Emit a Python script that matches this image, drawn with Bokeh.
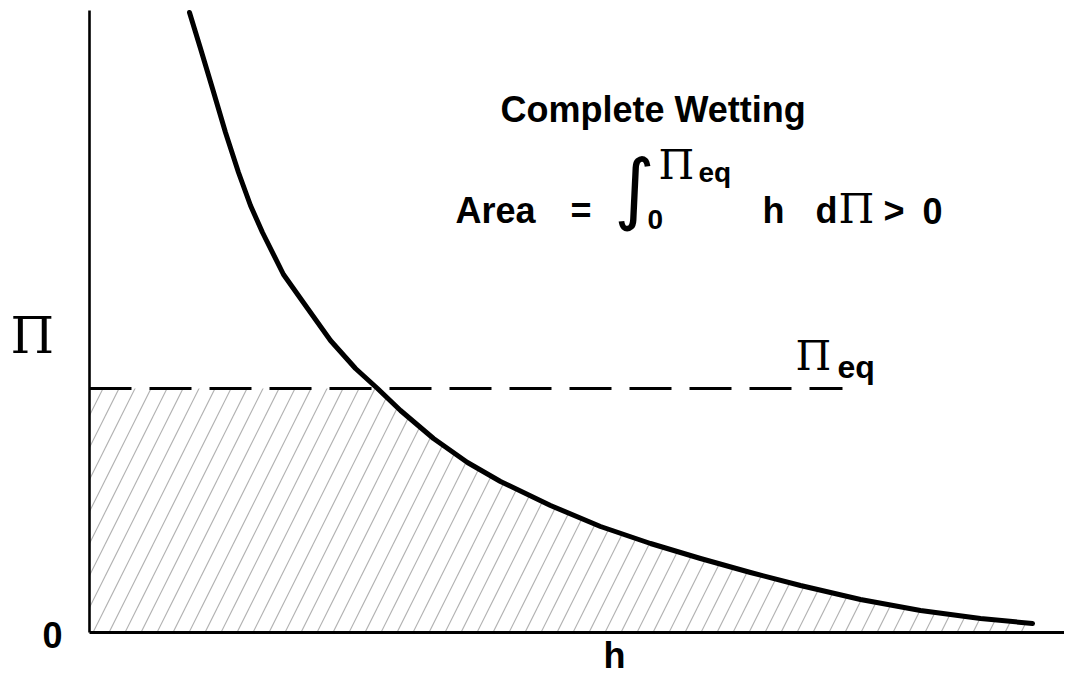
import numpy as np
from bokeh.plotting import figure
from bokeh.models import Range1d, Label
from bokeh.embed import file_html
from bokeh.resources import INLINE

# ---- data (h and Pi in arbitrary units) ----
H = [1.00, 1.11, 1.23, 1.36, 1.49, 1.61, 1.73, 1.94, 2.16, 2.41, 2.66,
     2.88, 3.11, 3.44, 3.78, 4.11, 4.61, 5.11, 5.61, 6.11, 6.61, 7.11,
     7.71, 8.31, 8.91, 9.43]
PI = [6.20, 5.84, 5.44, 5.00, 4.60, 4.27, 4.00, 3.58, 3.27, 2.92, 2.64,
      2.44, 2.22, 1.94, 1.70, 1.51, 1.27, 1.06, 0.89, 0.74, 0.60, 0.47,
      0.33, 0.22, 0.14, 0.09]
PI_EQ = 2.44
PI_EQ_LINE_END = 7.53
AXIS_H = [0.0, 9.86]
AXIS_PI = [0.0, 6.22]

SANS = "Liberation Sans"
SERIF = "DejaVu Serif"

p = figure(width=1064, height=679, output_backend="svg", toolbar_location=None,
           x_range=Range1d(-0.89, 9.75), y_range=Range1d(-0.47, 6.32),
           min_border=0)
p.axis.visible = False
p.grid.visible = False
p.outline_line_color = None
p.background_fill_color = "white"
p.border_fill_color = "white"

# hatched area: under the curve, capped at Pi_eq
xs = np.concatenate([[0.0], np.array(H)])
tops = np.minimum(np.interp(xs, H, PI), PI_EQ)
p.varea(x=xs, y1=np.zeros_like(xs), y2=tops, fill_alpha=0,
        hatch_pattern="/", hatch_color="#9a9a9a", hatch_scale=32,
        hatch_weight=1.2, hatch_alpha=0.75)

# axes
p.line(x=[AXIS_H[0], AXIS_H[0]], y=AXIS_PI, line_color="black", line_width=2.6)
p.line(x=AXIS_H, y=[AXIS_PI[0], AXIS_PI[0]], line_color="black", line_width=3)

# Pi_eq dashed line
p.line(x=[0.0, PI_EQ_LINE_END], y=[PI_EQ, PI_EQ], line_color="black",
       line_width=3, line_dash="42 18")

# isotherm curve
p.line(x=H, y=PI, line_color="black", line_width=5, line_join="round", line_cap="round")

def lab(x, y, t, font=SANS, size=36, style="bold", align="left", baseline="alphabetic"):
    p.add_layout(Label(x=x, y=y, text=t, text_font=font, text_font_size=f"{size}px",
                       text_font_style=style, text_align=align, text_baseline=baseline,
                       text_color="black"))

# axis labels
lab(-0.79, 2.97, "Π", font=SERIF, size=50, style="normal")
lab(-0.47, -0.02, "0", size=36)
lab(5.14, -0.23, "h", size=36)

# Pi_eq label
lab(7.06, 2.77, "Π", font=SERIF, size=41, style="normal")
lab(7.48, 2.66, "eq", size=32)

# title text
lab(4.11, 5.23, "Complete Wetting", size=36)

# formula
lab(3.66, 4.22, "Area", size=36)
lab(4.81, 4.22, "=", size=36)
lab(5.45, 4.45, "∫", font="DejaVu Sans", size=78, style="normal", align="center", baseline="middle")
lab(5.58, 4.13, "0", size=28)
lab(5.69, 4.68, "Π", font=SERIF, size=41, style="normal")
lab(6.09, 4.60, "eq", size=28)
lab(6.73, 4.22, "h", size=36)
lab(7.26, 4.22, "d", size=36)
lab(7.49, 4.24, "Π", font=SERIF, size=41, style="normal")
lab(7.94, 4.22, ">", size=36)
lab(8.33, 4.22, "0", size=36)

open("out.html", "w").write(file_html(p, INLINE))
